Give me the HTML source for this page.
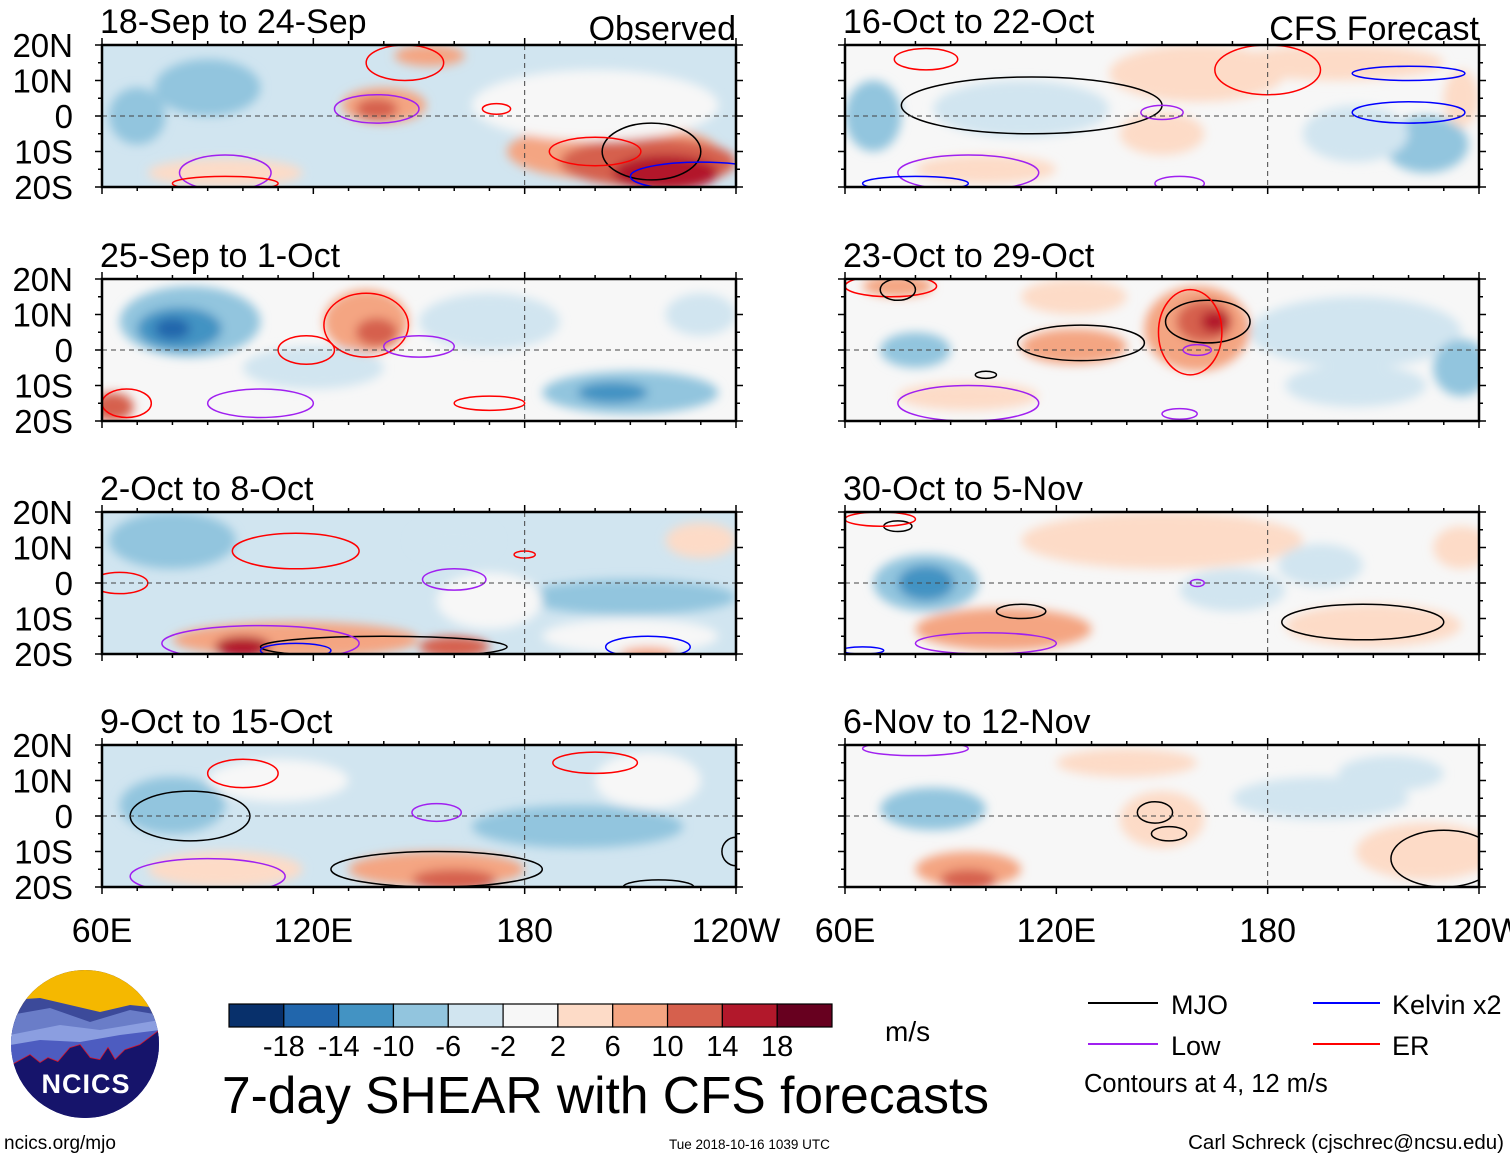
<!DOCTYPE html>
<html><head><meta charset="utf-8">
<style>
html,body{margin:0;padding:0;background:#fff;}
svg{display:block;font-family:"Liberation Sans",sans-serif;}
</style></head>
<body>
<svg id="chart" width="1510" height="1159" viewBox="0 0 1510 1159" xmlns="http://www.w3.org/2000/svg">
<defs>
<filter id="blur" x="-20%" y="-20%" width="140%" height="140%"><feGaussianBlur stdDeviation="5"/></filter>
</defs>
<g id="panels"></g>

<g>
<clipPath id="logoclip"><circle cx="85" cy="1044" r="74"/></clipPath>
<g clip-path="url(#logoclip)">
<rect x="10" y="968" width="150" height="152" fill="#16146b"/>
<rect x="10" y="968" width="150" height="50" fill="#f5b800"/>
<polygon points="10,1000 40,998 70,1005 100,1012 130,1005 160,1008 160,1030 10,1040" fill="#3c4a9a"/>
<polygon points="10,1015 50,1008 90,1022 130,1010 160,1015 160,1040 10,1050" fill="#6a7dc8"/>
<polygon points="10,1035 60,1025 100,1030 160,1020 160,1060 10,1060" fill="#8b9ee0"/>
<polygon points="10,1045 40,1040 80,1042 120,1035 160,1030 160,1062 10,1065" fill="#4d5cc0"/>
<polyline points="10,1066 30,1055 40,1063 48,1058 58,1062 70,1048 80,1045 90,1058 100,1060 108,1048 115,1060 125,1050 140,1045 160,1030" fill="none" stroke="#e01020" stroke-width="1.5"/>
<polygon points="10,1066 30,1055 40,1063 48,1058 58,1062 70,1048 80,1045 90,1058 100,1060 108,1048 115,1060 125,1050 140,1045 160,1030 160,1120 10,1120" fill="#16146b"/>
</g>
<text x="86" y="1093" text-anchor="middle" font-size="27" font-weight="bold" fill="#fff" letter-spacing="1">NCICS</text>
</g>
<text x="4" y="1149" font-size="19">ncics.org/mjo</text>

<g id="colorbar"></g>
<text x="885" y="1041" font-size="28">m/s</text>
<text x="222" y="1113" font-size="51.5">7-day SHEAR with CFS forecasts</text>
<text x="669" y="1149" font-size="13.5">Tue 2018-10-16 1039 UTC</text>
<text x="1504" y="1149" font-size="20.5" text-anchor="end">Carl Schreck (cjschrec@ncsu.edu)</text>

<g>
<line x1="1088" y1="1003" x2="1158" y2="1003" stroke="#000" stroke-width="2"/>
<text x="1171" y="1014" font-size="27">MJO</text>
<line x1="1088" y1="1044" x2="1158" y2="1044" stroke="#a020f0" stroke-width="2"/>
<text x="1171" y="1055" font-size="27">Low</text>
<line x1="1313" y1="1003" x2="1380" y2="1003" stroke="#0000ff" stroke-width="2"/>
<text x="1392" y="1014" font-size="27">Kelvin x2</text>
<line x1="1313" y1="1044" x2="1380" y2="1044" stroke="#ff0000" stroke-width="2"/>
<text x="1392" y="1055" font-size="27">ER</text>
<text x="1084" y="1092" font-size="25.5">Contours at 4, 12 m/s</text>
</g>
</svg>
<script>
const NS="http://www.w3.org/2000/svg";
const levelColors=["#08306b","#2166ac","#4393c3","#92c5de","#d1e5f0","#f7f7f7","#fddbc7","#f4a582","#d6604d","#b2182b","#67001f"];
const colorbarLabels=["-18","-14","-10","-6","-2","2","6","10","14","18"];
const panelTitles=["18-Sep to 24-Sep","25-Sep to 1-Oct","2-Oct to 8-Oct","9-Oct to 15-Oct","16-Oct to 22-Oct","23-Oct to 29-Oct","30-Oct to 5-Nov","6-Nov to 12-Nov"];
const panelBase=[4,5,4,4,5,5,5,5];
const latTicks=["20N","10N","0","10S","20S"];
const latValues=[20,10,0,-10,-20];
const lonLabels=["60E","120E","180","120W"];
const lonValues=[60,120,180,240];
// blobs: [lon, lat, halfWidthDeg, halfHeightDeg, level]
const blobs0=[[205,-10,30,8,7],[215,-13,25,7,8],[220,-16,15,5,9],[140,3,12,5,7],[138,2,6,3,8],[153,17,10,3,7],[95,-16,22,4,6],[200,3,35,10,5],[90,8,15,8,3],[70,0,8,8,3]];
const blobs1=[[85,8,20,10,3],[82,6,12,6,2],[80,6,5,3,1],[135,8,12,9,7],[138,5,6,4,8],[210,-12,25,6,3],[205,-12,10,3,2],[170,8,20,8,4],[63,-16,6,4,8],[120,-5,20,6,4],[230,10,10,6,4]];
const blobs2=[[115,-16,35,5,7],[100,-18,8,3,9],[160,-18,10,3,8],[80,12,18,8,3],[210,-4,30,5,3],[170,-5,15,8,5],[210,-15,25,5,5],[160,12,12,5,4],[230,12,10,5,6],[215,-20,8,2,7]];
const blobs3=[[155,-15,25,5,7],[160,-18,12,3,8],[95,-15,22,5,6],[195,-3,30,6,3],[110,10,20,6,5],[215,10,15,8,5],[80,3,15,8,3]];
const blobs4=[[68,0,8,10,3],[160,12,25,8,6],[200,15,30,5,6],[225,-8,12,8,3],[205,-5,15,8,4],[110,2,25,8,4],[100,-15,20,4,6],[150,-5,12,6,6],[235,5,5,8,6]];
const blobs5=[[160,6,15,12,7],[162,8,8,6,8],[165,8,4,3,9],[125,1,15,5,7],[95,-13,20,4,6],[205,5,30,10,4],[235,-5,8,8,3],[80,0,10,5,3],[75,18,10,3,7],[125,15,15,5,6],[205,-10,20,6,4]];
const blobs6=[[83,0,15,8,3],[83,0,8,5,2],[105,-13,25,6,7],[150,12,40,8,6],[210,-12,25,6,6],[170,-2,15,6,4],[195,5,12,6,4],[235,10,8,6,6]];
const blobs7=[[85,2,15,6,3],[95,-15,15,5,7],[95,-18,8,3,8],[150,-1,12,8,6],[225,-10,20,8,6],[195,5,25,6,4],[140,15,20,4,6],[215,12,15,5,4]];
const panelBlobs=[blobs0,blobs1,blobs2,blobs3,blobs4,blobs5,blobs6,blobs7];
// contours: [lon, lat, rxDeg, ryDeg, type] 0=MJO,1=Low,2=Kelvin,3=ER
const contourColors=["#000","#a020f0","#0000ff","#ff0000"];
const cont0=[[216,-10,14,8,0],[138,2,12,4,1],[146,15,11,5,3],[200,-10,13,4,3],[230,-17,20,4,2],[95,-16,13,5,1],[95,-19,15,2,3],[172,2,4,1.5,3]];
const cont1=[[135,7,12,9,3],[118,0,8,4,3],[150,1,10,3,1],[105,-15,15,4,1],[170,-15,10,2,3],[67,-15,7,4,3]];
const cont2=[[115,9,18,5,3],[140,-18,35,3,0],[105,-17,28,5,1],[65,0,8,3,3],[160,1,9,3,1],[180,8,3,1,3],[115,-19,10,2,2],[215,-18,12,3,2]];
const cont3=[[85,0,17,7,0],[155,-15,30,5,0],[100,12,10,4,3],[200,15,12,3,3],[155,1,7,2.5,1],[90,-17,22,5,1],[240,-10,4,4,0],[218,-20,10,2,0]];
const cont4=[[113,3,37,8,0],[220,12,16,2,2],[220,1,16,3,2],[150,1,6,2,1],[95,-16,20,5,1],[83,16,9,3,3],[180,13,15,7,3],[80,-19,15,2,2],[155,-19,7,2,1]];
const cont5=[[163,8,12,6,0],[127,2,18,5,0],[158,5,9,12,3],[73,18,13,3,3],[160,0,4,1.5,1],[95,-15,20,5,1],[155,-18,5,1.5,1],[100,-7,3,1,0],[75,17,5,3,0]];
const cont6=[[207,-11,23,5,0],[110,-8,7,2,0],[100,-17,20,3,1],[160,0,2,1,1],[75,16,4,1.5,0],[65,-19,6,1,2],[70,18,10,2,3]];
const cont7=[[230,-12,15,8,0],[148,1,5,3,0],[152,-5,5,2,0],[80,19,15,2,1]];
const panelContours=[cont0,cont1,cont2,cont3,cont4,cont5,cont6,cont7];

const PW=634, PH=142, colX=[102,845], rowY=[45,279,512,745];
function lonX(x0,lon){return x0+(lon-60)/180*PW;}
function latY(y0,lat){return y0+(20-lat)/40*PH;}
function mk(tag,attrs,parent){const e=document.createElementNS(NS,tag);for(const k in attrs)e.setAttribute(k,attrs[k]);parent.appendChild(e);return e;}
const root=document.getElementById('panels');
panelTitles.forEach((t,i)=>{
  const x0=colX[i<4?0:1], y0=rowY[i%4];
  const g=mk('g',{},root);
  
  
  const cp=mk('clipPath',{id:'cp'+i},g);
  mk('rect',{x:x0,y:y0,width:PW,height:PH},cp);
  const inner=mk('g',{'clip-path':'url(#cp'+i+')'},g);
  mk('rect',{x:x0,y:y0,width:PW,height:PH,fill:levelColors[panelBase[i]]},inner);
  const bg=mk('g',{filter:'url(#blur)'},inner);
  panelBlobs[i].forEach(b=>{
    const el=mk('ellipse',{cx:lonX(x0,b[0]),cy:latY(y0,b[1]),rx:b[2]/180*PW,ry:b[3]/40*PH,fill:levelColors[b[4]]},bg);
    
    
  });
  panelContours[i].forEach(c=>{
    const el=mk('ellipse',{cx:lonX(x0,c[0]),cy:latY(y0,c[1]),rx:c[2]/180*PW,ry:c[3]/40*PH,fill:'none',stroke:contourColors[c[4]],'stroke-width':1.5},inner);
    
    
  });
  mk('line',{x1:x0,y1:latY(y0,0),x2:x0+PW,y2:latY(y0,0),stroke:'#444','stroke-dasharray':'5,4','stroke-width':1},g);
  mk('line',{x1:lonX(x0,180),y1:y0,x2:lonX(x0,180),y2:y0+PH,stroke:'#444','stroke-dasharray':'5,4','stroke-width':1},g);
  mk('rect',{x:x0,y:y0,width:PW,height:PH,fill:'none',stroke:'#000','stroke-width':2.5},g);
  for(let lon=60;lon<=240;lon+=10){
    const x=lonX(x0,lon), L=(lon%60===0)?7:4;
    mk('line',{x1:x,y1:y0+PH,x2:x,y2:y0+PH+L,stroke:'#000','stroke-width':1.5},g);
    mk('line',{x1:x,y1:y0,x2:x,y2:y0-L,stroke:'#000','stroke-width':1.5},g);
  }
  for(let lat=-20;lat<=20;lat+=5){
    const y=latY(y0,lat), L=(lat%10===0)?7:4;
    mk('line',{x1:x0,y1:y,x2:x0-L,y2:y,stroke:'#000','stroke-width':1.5},g);
    mk('line',{x1:x0+PW,y1:y,x2:x0+PW+L,y2:y,stroke:'#000','stroke-width':1.5},g);
  }
  const tt=mk('text',{x:x0-2,y:y0-12,'font-size':34},g);tt.textContent=t;
  
  
  if(i===0||i===4){const s=mk('text',{x:x0+PW,y:y0-5,'font-size':34,'text-anchor':'end'},g);s.textContent=i===0?'Observed':'CFS Forecast';
    
    }
  if(i<4){latTicks.forEach((lt,k)=>{const e=mk('text',{x:73,y:latY(y0,latValues[k])+12,'font-size':33,'text-anchor':'end'},g);e.textContent=lt;
    
    });}
});
[0,1].forEach(c=>{
  lonLabels.forEach((l,k)=>{
    const e=mk('text',{x:lonX(colX[c],lonValues[k]),y:942,'font-size':34,'text-anchor':'middle'},root);e.textContent=l;
    
    
  });
});
const cb=document.getElementById('colorbar');
const cbX=229, cbW=603/levelColors.length;
levelColors.forEach((col,k)=>{
  const r=mk('rect',{x:cbX+k*cbW,y:1004,width:cbW,height:23,fill:col,stroke:'#000','stroke-width':1.2},cb);
  
  
});
colorbarLabels.forEach((l,k)=>{
  const e=mk('text',{x:cbX+(k+1)*cbW,y:1056,'font-size':29,'text-anchor':'middle'},cb);e.textContent=l;
  
  
});
</script>
</body></html>
